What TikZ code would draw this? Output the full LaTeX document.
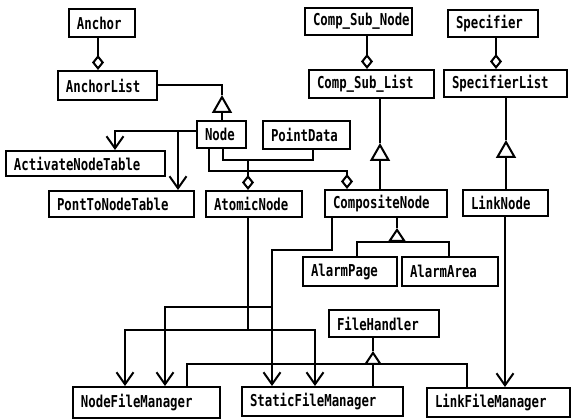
\documentclass[tikz,border=0pt]{standalone}
\usepackage{fontspec}
\newfontfamily\monob{DejaVu Sans Mono}
\usetikzlibrary{arrows.meta}
\newcommand\bxt[1]{\hspace*{8pt}\scalebox{0.98}[1.3]{#1}}
\begin{document}
\begin{tikzpicture}[x=1pt,y=-1pt,line width=2pt,
  box/.style 2 args={draw, rectangle, line width=2pt, minimum width=#1pt, minimum height=#2pt,
    text width=#1pt, inner xsep=0pt, inner ysep=0pt, align=left,
    font=\monob\bfseries\fontsize{12.6}{14}\selectfont},
  dep/.style={-{Straight Barb[length=12pt,width=17pt]}},
  gen/.style={-{Triangle[open,length=18pt,width=20pt]}},
  gens/.style={-{Triangle[open,length=14pt,width=18pt]}},
  agg/.style={-{Diamond[open,length=15pt,width=12pt]}}]
\useasboundingbox (0,0) rectangle (571,419);
\fill[white] (0,0) rectangle (571,419);
% classes
\node[box={66}{28}]  (Anchor)            at (102,23)    {\bxt{Anchor}};
\node[box={99}{29}]  (AnchorList)        at (107.5,85.5) {\bxt{AnchorList}};
\node[box={49}{27}]  (Node)              at (221.5,134.5) {\bxt{Node}};
\node[box={87}{28}]  (PointData)         at (306.5,135) {\bxt{PointData}};
\node[box={159}{25}] (ActivateNodeTable) at (85.5,163.5) {\bxt{ActivateNodeTable}};
\node[box={145}{26}] (PontToNodeTable)   at (121.5,204) {\bxt{PontToNodeTable}};
\node[box={96}{26}]  (AtomicNode)        at (254,204)   {\bxt{AtomicNode}};
\node[box={122}{27}] (CompositeNode)     at (386,203.5) {\bxt{CompositeNode}};
\node[box={85}{26}]  (LinkNode)          at (505.5,203) {\bxt{LinkNode}};
\node[box={107}{27}] (CompSubNode)       at (358.5,21.5) {\bxt{Comp\_Sub\_Node}};
\node[box={90}{27}]  (Specifier)         at (493,23.5)  {\bxt{Specifier}};
\node[box={125}{28}] (CompSubList)       at (371.5,84)  {\bxt{Comp\_Sub\_List}};
\node[box={123}{27}] (SpecifierList)     at (505.5,83.5) {\bxt{SpecifierList}};
\node[box={94}{29}]  (AlarmPage)         at (350,271.5) {\bxt{AlarmPage}};
\node[box={96}{29}]  (AlarmArea)         at (450,271.5) {\bxt{AlarmArea}};
\node[box={110}{27}] (FileHandler)       at (384,323.5) {\bxt{FileHandler}};
\node[box={147}{31}] (NodeFileManager)   at (146.5,402.5) {\bxt{NodeFileManager}};
\node[box={161}{29}] (StaticFileManager) at (322.5,401.5) {\bxt{StaticFileManager}};
\node[box={143}{29}] (LinkFileManager)   at (498.5,402.5) {\bxt{LinkFileManager}};
% aggregations at top
\draw[agg] (Anchor.south -| 98,0) -- (AnchorList.north -| 98,0);
\draw[agg] (CompSubNode.south -| 367,0) -- (CompSubList.north -| 367,0);
\draw[agg] (Specifier.south -| 496,0) -- (SpecifierList.north -| 496,0);
% generalizations
\draw (AnchorList.east) -| (222,95);
\draw[gen] (Node.north -| 222,0) -- (222,95);
\draw (CompSubList.south -| 380,0) -- (380,143);
\draw[gen] (CompositeNode.north -| 380,0) -- (380,143);
\draw (SpecifierList.south -| 506,0) -- (506,140);
\draw[gen] (LinkNode.north -| 506,0) -- (506,140);
% Node -> tables
\draw[dep] (Node.west |- 0,131) -| (ActivateNodeTable.north -| 115,0);
\draw[dep] (178,131) -- (PontToNodeTable.north -| 178,0);
% Node / PointData -> AtomicNode, CompositeNode
\draw (Node.south -| 223,0) -- (223,160) -- (313,160) -- (PointData.south -| 313,0);
\draw[agg] (248,160) -- (AtomicNode.north -| 248,0);
\draw[agg] (Node.south -| 209,0) -- (209,171) -- (347,171) -- (CompositeNode.north -| 347,0);
% CompositeNode -> alarms
\draw (CompositeNode.south -| 397,0) -- (397,228);
\draw[gens] (397,242) -- (397,228);
\draw (AlarmPage.north -| 357,0) -- (357,242) -- (449,242) -- (AlarmArea.north -| 449,0);
% FileHandler
\draw (FileHandler.south -| 373,0) -- (373,351);
\draw[gens] (373,364) -- (373,351);
\draw (NodeFileManager.north -| 187,0) -- (187,364) -- (467,364) -- (LinkFileManager.north -| 467,0);
\draw (373,364) -- (StaticFileManager.north -| 373,0);
% AtomicNode -> managers
\draw (AtomicNode.south -| 248,0) -- (248,330);
\draw[dep] (248,330) -| (NodeFileManager.north -| 125,0);
\draw[dep] (248,330) -| (StaticFileManager.north -| 315,0);
% CompositeNode -> managers
\draw[dep] (CompositeNode.south -| 332,0) |- (272,250) -- (StaticFileManager.north -| 272,0);
\draw[dep] (272,307) -| (NodeFileManager.north -| 165,0);
% LinkNode -> LinkFileManager
\draw[dep] (LinkNode.south -| 505,0) -- (LinkFileManager.north -| 505,0);
\end{tikzpicture}
\end{document}
